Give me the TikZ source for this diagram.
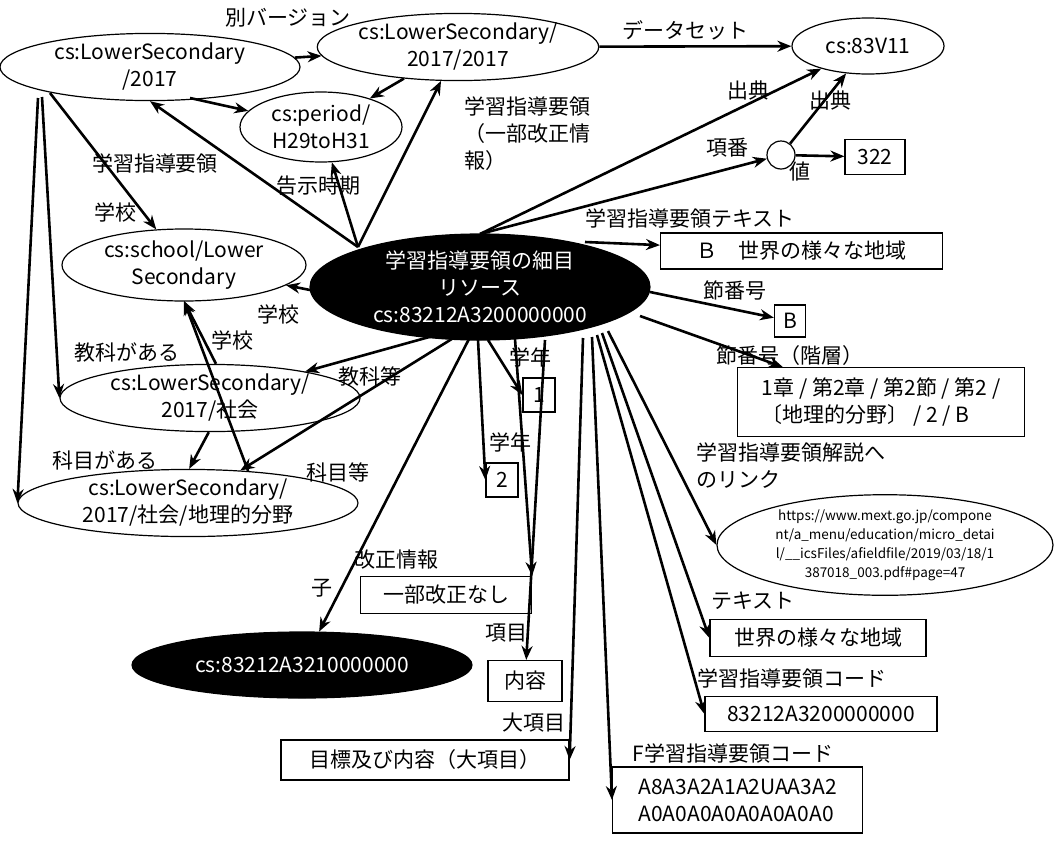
\documentclass[tikz,border=0pt]{standalone}
\usepackage{fontspec}
\setmainfont{Noto Sans CJK JP}
\usetikzlibrary{shapes.geometric,arrows.meta,calc}
\begin{document}
\begin{tikzpicture}[x=1pt,y=-1pt,
  every node/.style={font=\fontsize{21}{27}\selectfont},
  ell/.style={draw,ellipse,line width=1.2pt,inner sep=0pt,align=center},
  blk/.style={ell,fill=black,text=white},
  bx/.style={draw,line width=1.2pt,inner sep=0pt,align=left},
  lbl/.style={inner sep=1pt,align=left},
  ar/.style={line width=2.6pt,-{Stealth[length=14pt,width=11pt]}}]
\useasboundingbox (0,0) rectangle (1061,844);
% ellipses
\node[ell,minimum width=300pt,minimum height=66pt] (e1) at (150,67) {cs:LowerSecondary\\/2017};
\node[ell,minimum width=258pt,minimum height=66pt] (e2) at (458,47) {cs:LowerSecondary/\\2017/2017};
\node[ell,minimum width=152pt,minimum height=56pt] (e3) at (868,46) {cs:83V11};
\node[ell,minimum width=162pt,minimum height=70pt] (e4) at (321,127) {cs:period/\\H29toH31};
\node[ell,minimum width=28pt,minimum height=28pt] (c) at (781,155) {};
\node[bx,minimum width=60pt,minimum height=35pt,align=center] (v) at (875,157) {322};
\node[ell,minimum width=244pt,minimum height=72pt] (e5) at (184,265) {cs:school/Lower\\Secondary};
\node[blk,minimum width=340pt,minimum height=106pt] (m) at (480,287) {学習指導要領の細目\\リソース\\cs:83212A3200000000};
\node[bx,minimum width=282pt,minimum height=36pt,anchor=west,inner xsep=12pt] (b1) at (660,251) {Ｂ　世界の様々な地域};
\node[bx,minimum width=31pt,minimum height=32pt,align=center] (b2) at (790,321) {B};
\node[bx,minimum width=287pt,minimum height=69pt,anchor=west,inner xsep=10pt] (b3) at (737,402) {1章 / 第2章 / 第2節 / 第2 /\\〔地理的分野〕 / 2 / B};
\node[ell,minimum width=300pt,minimum height=66pt] (e6) at (210,398) {cs:LowerSecondary/\\2017/社会};
\node[bx,minimum width=32pt,minimum height=34pt,align=center] (n1) at (539,395) {1};
\node[ell,minimum width=340pt,minimum height=66pt] (e7) at (188,503) {cs:LowerSecondary/\\2017/社会/地理的分野};
\node[bx,minimum width=32pt,minimum height=34pt,align=center] (n2) at (502,480) {2};
\node[ell,minimum width=336pt,minimum height=100pt,font=\fontsize{13.5}{19}\selectfont] (e8) at (885,545) {https://www.mext.go.jp/compone\\nt/a\_menu/education/micro\_detai\\l/\_\_icsFiles/afieldfile/2019/03/18/1\\387018\_003.pdf\#page=47};
\node[bx,minimum width=171pt,minimum height=37pt,align=center] (k1) at (446,595) {一部改正なし};
\node[bx,minimum width=216pt,minimum height=37pt,align=center] (k2) at (818,638) {世界の様々な地域};
\node[blk,minimum width=340pt,minimum height=66pt] (m2) at (302,665) {cs:83212A3210000000};
\node[bx,minimum width=74pt,minimum height=41pt,align=center] (k3) at (525,681) {内容};
\node[bx,minimum width=232pt,minimum height=35pt,align=center] (k4) at (821,714) {83212A3200000000};
\node[bx,minimum width=288pt,minimum height=40pt,align=center] (k5) at (425,760) {目標及び内容（大項目）};
\node[bx,minimum width=250pt,minimum height=66pt,anchor=west,inner xsep=8pt] (k6) at (612,800) {A8A3A2A1A2UAA3A2\\A0A0A0A0A0A0A0A0};
% start points
\coordinate (mTL) at ($(m.center)+(-122,-40)$);
\coordinate (mT) at ($(m.center)+(0,-53)$);
\coordinate (mTR) at ($(m.center)+(105,-45)$);
\coordinate (mR) at ($(m.center)+(170,5)$);
\coordinate (mR2) at ($(m.center)+(160,29)$);
\coordinate (mB1) at ($(m.center)+(128,44)$);
\coordinate (mB2) at ($(m.center)+(122,46)$);
\coordinate (mB3) at ($(m.center)+(117,48)$);
\coordinate (mB4) at ($(m.center)+(112,50)$);
\coordinate (mB5) at ($(m.center)+(103,51)$);
\coordinate (mB6) at ($(m.center)+(65,53)$);
\coordinate (mB7) at ($(m.center)+(35,52)$);
\coordinate (mB8) at ($(m.center)+(8,53)$);
\coordinate (mB9) at ($(m.center)+(-2,53)$);
\coordinate (mB10) at ($(m.center)+(-10,50)$);
\coordinate (mB11) at ($(m.center)+(-25,50)$);
\coordinate (mB12) at ($(m.center)+(-40,47)$);
\coordinate (mL) at ($(m.center)+(-170,3)$);
\coordinate (e1b1) at ($(e1.center)+(40,31)$);
\coordinate (e1b2) at ($(e1.center)+(-100,26)$);
\coordinate (e1b3) at ($(e1.center)+(-108,30)$);
\coordinate (e1b4) at ($(e1.center)+(-112,31)$);
\coordinate (e5b) at ($(e5.center)+(0,36)$);
% edges
\draw[ar] (e1) -- (e2);
\draw[ar] (e2) -- (e4);
\draw[ar] (e2) -- (e3);
\draw[ar] (e1b1) -- (e4);
\draw[ar] (mTL) -- (e1.south);
\draw[ar] (mTL) -- (e4);
\draw[ar] (mTL) -- (e2);
\draw[ar] (mT) -- (e3);
\draw[ar] (mT) -- (c);
\draw[ar] (c) -- (e3);
\draw[ar] (c) -- (v);
\draw[ar] (mTR) -- (b1);
\draw[ar] (mR) -- (b2);
\draw[ar] (mR2) -- (b3);
\draw[ar] (mB1) -- (e8.west);
\draw[ar] (mB2) -- (k2.west);
\draw[ar] (mB3) -- (k4.west);
\draw[ar] (mB4) -- (k6.west);
\draw[ar] (mB5) -- (k5.east);
\draw[ar] (mB6) -- (k3);
\draw[ar] (mB7) -- (k1.north east);
\draw[ar] (mB8) -- (n1.west);
\draw[ar] (mB9) -- (n2.west);
\draw[ar] (mB10) -- (m2);
\draw[ar] (mB11) -- (e7);
\draw[ar] (mB12) -- (e6);
\draw[ar] (mL) -- (e5);
\draw[ar] (e1b2) -- (e5);
\draw[ar] (e1b3) -- (e6.west);
\draw[ar] (e1b4) -- (e7.west);
\draw[ar] (e6.80) -- (e5b);
\draw[ar] (e7.28) -- (e5b);
\draw[ar] (e6.-92) -- (e7.88);
% labels
\node[lbl] (l1) at (288,18) {別バージョン};
\node[lbl] (l2) at (685,30) {データセット};
\node[lbl] (l3) at (155,163) {学習指導要領};
\node[lbl] (l4) at (318,186) {告示時期};
\node[lbl,anchor=north west] (l5) at (463,96) {学習指導要領\\（一部改正情\\報）};
\node[lbl] (l6) at (748,90) {出典};
\node[lbl] (l7) at (830,100) {出典};
\node[lbl] (l8) at (727,148) {項番};
\node[lbl] (l9) at (800,172) {値};
\node[lbl] (l10) at (690,218) {学習指導要領テキスト};
\node[lbl] (l11) at (735,290) {節番号};
\node[lbl] (l12) at (790,356) {節番号（階層）};
\node[lbl,anchor=north west] (l13) at (695,442) {学習指導要領解説へ\\のリンク};
\node[lbl] (l14) at (753,601) {テキスト};
\node[lbl] (l15) at (792,678) {学習指導要領コード};
\node[lbl] (l16) at (733,753) {F学習指導要領コード};
\node[lbl] (l17) at (534,723) {大項目};
\node[lbl] (l18) at (506,633) {項目};
\node[lbl] (l19) at (396,560) {改正情報};
\node[lbl] (l20) at (322,588) {子};
\node[lbl] (l21) at (510,442) {学年};
\node[lbl] (l22) at (530,357) {学年};
\node[lbl] (l23) at (370,376) {教科等};
\node[lbl] (l24) at (338,472) {科目等};
\node[lbl] (l25) at (278,314) {学校};
\node[lbl] (l26) at (115,212) {学校};
\node[lbl] (l27) at (127,352) {教科がある};
\node[lbl] (l28) at (105,460) {科目がある};
\node[lbl] (l29) at (232,340) {学校};
\end{tikzpicture}
\end{document}
